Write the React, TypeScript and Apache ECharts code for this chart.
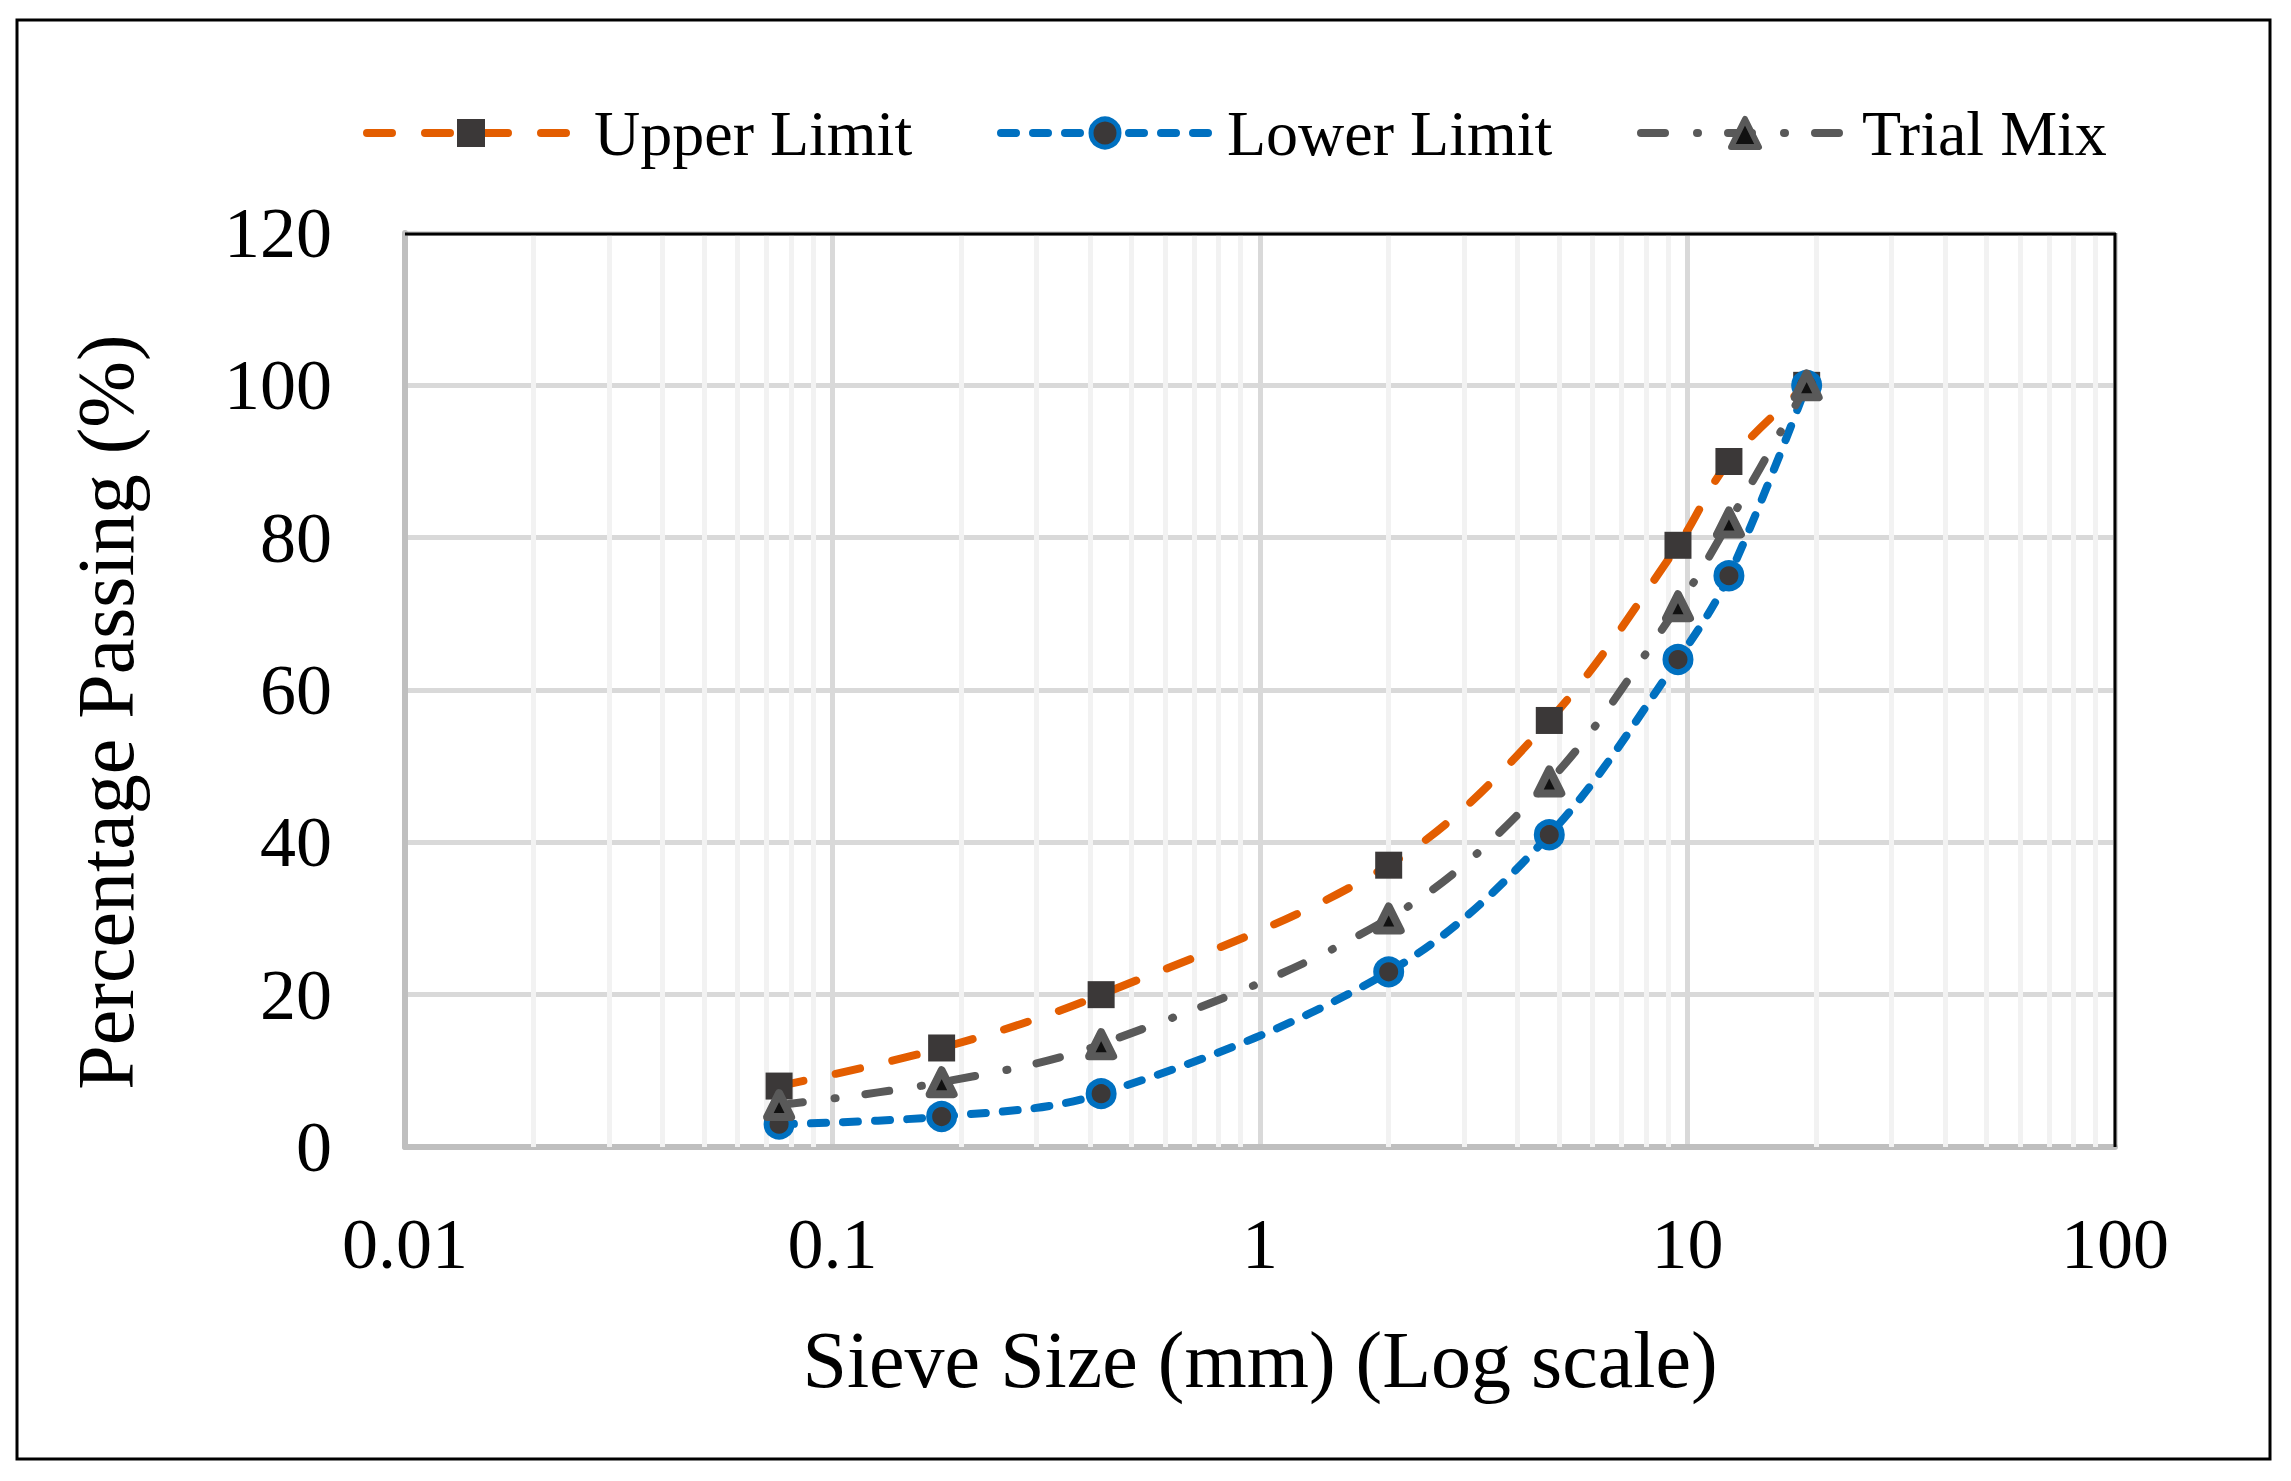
import React, { useEffect, useRef } from "react";
import * as echarts from "echarts";

// ---- Data ----
const sieveSizes = [0.075, 0.18, 0.425, 2.0, 4.75, 9.5, 12.5, 19];
const upperLimit = [8, 13, 20, 37, 56, 79, 90, 100];
const lowerLimit = [3, 4, 7, 23, 41, 64, 75, 100];
const trialMix = [5.5, 8.5, 13.5, 30, 48, 71, 82, 100];
const seriesNames = ["Upper Limit", "Lower Limit", "Trial Mix"];
const xTickLabels = ["0.01", "0.1", "1", "10", "100"];
const xMin = 0.01;
const xMax = 100;
const yMin = 0;
const yMax = 120;
const yStep = 20;
const minorGridValues = [
  0.02, 0.03, 0.04, 0.05, 0.06, 0.07, 0.08, 0.09,
  0.2, 0.3, 0.4, 0.5, 0.6, 0.7, 0.8, 0.9,
  2, 3, 4, 5, 6, 7, 8, 9,
  20, 30, 40, 50, 60, 70, 80, 90,
];
const xTitle = "Sieve Size (mm) (Log scale)";
const yTitle = "Percentage Passing (%)";

const FONT = "'Liberation Serif', 'Times New Roman', serif";
const LINE_W = 8;

const pairs = (ys: number[]) => sieveSizes.map((x, i) => [x, ys[i]]);

export default function App() {
  const ref = useRef<HTMLDivElement>(null);

  useEffect(() => {
    if (!ref.current) return;
    const chart = echarts.init(ref.current, undefined, { renderer: "svg" });

    const legendBase = {
      top: 101,
      padding: 0,
      itemWidth: 208,
      itemHeight: 35,
      selectedMode: false,
      orient: "horizontal",
      lineStyle: { width: LINE_W, cap: "round" },
    };

    const G_LEFT = 405;
    const G_TOP = 233;
    const G_W = 1710;
    const G_H = 914;

    const option: any = {
      animation: false,
      backgroundColor: "#ffffff",
      grid: {
        left: G_LEFT,
        top: G_TOP,
        width: G_W,
        height: G_H,
        show: false,
        containLabel: false,
      },
      legend: [
        {
          ...legendBase,
          left: 363,
          data: [seriesNames[0]],
          itemStyle: { borderWidth: 0 },
          textStyle: { fontSize: 64, fontFamily: FONT, color: "#000", padding: [0, 0, 0, 14] },
        },
        {
          ...legendBase,
          left: 997,
          data: [seriesNames[1]],
          itemStyle: { borderWidth: 5, borderColor: "#0070C0" },
          textStyle: { fontSize: 64, fontFamily: FONT, color: "#000", padding: [0, 0, 0, 13] },
        },
        {
          ...legendBase,
          left: 1637,
          data: [seriesNames[2]],
          itemStyle: { borderWidth: 6, borderColor: "#595959", borderJoin: "round" },
          textStyle: { fontSize: 64, fontFamily: FONT, color: "#000", padding: [0, 0, 0, 8] },
        },
      ],
      xAxis: {
        type: "log",
        logBase: 10,
        min: xMin,
        max: xMax,
        splitNumber: 4,
        name: xTitle,
        nameLocation: "middle",
        nameGap: 173,
        nameTextStyle: { fontSize: 80, fontFamily: FONT, color: "#000" },
        axisLine: { show: true, onZero: false, lineStyle: { color: "#BFBFBF", width: 6 } },
        axisTick: { show: false },
        axisLabel: {
          fontSize: 72,
          fontFamily: FONT,
          color: "#000",
          margin: 61,
          formatter: (v: number) => {
            const i = Math.round(Math.log10(v)) + 2;
            return xTickLabels[i] ?? "";
          },
        },
        splitLine: { show: true, lineStyle: { color: "#D9D9D9", width: 5 } },
      },
      yAxis: {
        type: "value",
        min: yMin,
        max: yMax,
        interval: yStep,
        axisLine: { show: true, lineStyle: { color: "#BFBFBF", width: 6 } },
        axisTick: { show: false },
        axisLabel: { fontSize: 72, fontFamily: FONT, color: "#000", margin: 73 },
        splitLine: { show: true, lineStyle: { color: "#D9D9D9", width: 5 } },
      },
      graphic: [
        {
          type: "rect",
          shape: { x: 17, y: 20, width: 2253, height: 1439 },
          style: { fill: "none", stroke: "#000", lineWidth: 3 },
          silent: true,
          z: 100,
        },
        {
          type: "line",
          shape: { x1: G_LEFT, y1: G_TOP + 1, x2: G_LEFT + G_W + 1, y2: G_TOP + 1 },
          style: { stroke: "#000", lineWidth: 3 },
          silent: true,
          z: 50,
        },
        {
          type: "line",
          shape: { x1: G_LEFT + G_W, y1: G_TOP, x2: G_LEFT + G_W, y2: G_TOP + G_H },
          style: { stroke: "#000", lineWidth: 3 },
          silent: true,
          z: 50,
        },
        {
          type: "text",
          x: 106,
          y: 712,
          rotation: Math.PI / 2,
          style: {
            text: yTitle,
            fontSize: 80,
            fontFamily: FONT,
            fill: "#000",
            textAlign: "center",
            textVerticalAlign: "middle",
          },
          silent: true,
        },
      ],
      series: [
        {
          type: "line",
          data: [],
          z: 1,
          silent: true,
          markLine: {
            z: 1,
            silent: true,
            animation: false,
            symbol: ["none", "none"],
            label: { show: false },
            lineStyle: { color: "#F2F2F2", width: 5, type: "solid" },
            emphasis: { disabled: true },
            data: minorGridValues.map((v) => ({ xAxis: v })),
          },
        },
        {
          name: seriesNames[0],
          type: "line",
          data: pairs(upperLimit),
          smooth: 0.35,
          z: 3,
          symbol: "rect",
          symbolSize: 27,
          lineStyle: { color: "#E35D00", width: LINE_W, type: [25, 33], cap: "round" },
          itemStyle: { color: "#3B3838", borderWidth: 0 },
        },
        {
          name: seriesNames[1],
          type: "line",
          data: pairs(lowerLimit),
          smooth: 0.35,
          z: 4,
          symbol: "circle",
          symbolSize: 25,
          lineStyle: { color: "#0070C0", width: LINE_W, type: [15, 17], cap: "round" },
          itemStyle: { color: "#3B3838", borderColor: "#0070C0", borderWidth: 6 },
        },
        {
          name: seriesNames[2],
          type: "line",
          data: pairs(trialMix),
          smooth: 0.35,
          z: 5,
          symbol: "triangle",
          symbolSize: 24,
          lineStyle: { color: "#595959", width: LINE_W, type: [24, 32, 1, 30], cap: "round" },
          itemStyle: { color: "#111111", borderColor: "#595959", borderWidth: 8, borderJoin: "round" },
        },
      ],
    };

    chart.setOption(option);
    return () => chart.dispose();
  }, []);

  return (
    <div
      ref={ref}
      style={{ position: "fixed", left: 0, top: 0, width: 2291, height: 1481, background: "#fff" }}
    />
  );
}
